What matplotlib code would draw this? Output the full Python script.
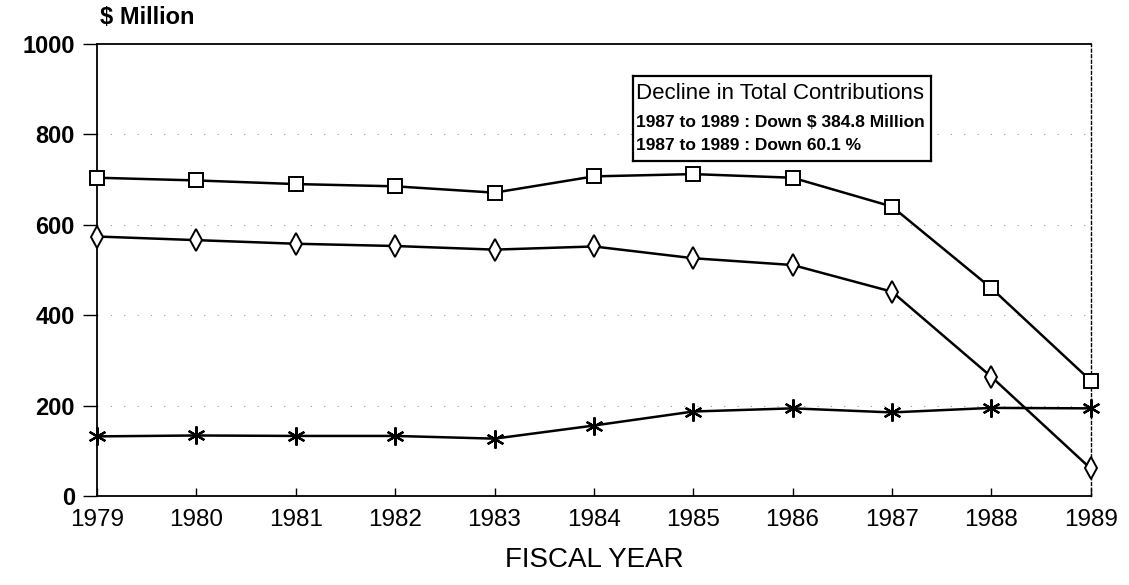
# coding=utf-8
"""
Total contributions by fiscal year, 1979-1989 ($ Million).
Redrawn from a scanned chart.
"""

import matplotlib
matplotlib.use('Agg')
import matplotlib.pyplot as plt

plt.rcParams['font.family'] = ['Liberation Sans', 'DejaVu Sans']

# Data
years = [1979, 1980, 1981, 1982, 1983, 1984, 1985, 1986, 1987, 1988, 1989]
total = [704, 698, 690, 685, 671, 707, 712, 704, 640.3, 460, 255.5]
diamond_series = [574, 566, 558, 553, 545, 552, 526, 511, 452, 264, 61]
star_series = [132, 134, 133, 133, 127, 156, 187, 194, 185, 195, 194]

y_ticks = [0, 200, 400, 600, 800, 1000]
box_title = "Decline in Total Contributions"
box_lines = ["1987 to 1989 : Down $ 384.8 Million",
             "1987 to 1989 : Down 60.1 %"]

fig = plt.figure(figsize=(11.29, 5.85), dpi=100)
ax = fig.add_axes([0.086, 0.152, 0.880, 0.773])

# faint dotted grid like the scan
for yv in y_ticks[1:-1]:
    ax.axhline(yv, color='0.6', lw=0.8, ls=(0, (1, 11)), zorder=1)

line_kw = dict(color='black', lw=1.8, clip_on=False, zorder=3)
ax.plot(years, total, marker='s', ms=10, mfc='white', mec='black', mew=1.4, **line_kw)
ax.plot(years, diamond_series, marker='d', ms=11, mfc='white', mec='black', mew=1.4, **line_kw)
ax.plot(years, star_series, marker=(6, 2, 0), ms=13, mec='black', mew=1.6, **line_kw)

ax.set_xlim(1979, 1989)
ax.set_ylim(0, 1000)
ax.set_xticks(years)
ax.set_yticks(y_ticks)
ax.tick_params(axis='x', direction='in', length=6, width=1, labelsize=17.5, pad=9)
ax.tick_params(axis='y', direction='out', length=10, width=1, labelsize=17, pad=6)
for lab in ax.get_yticklabels():
    lab.set_fontweight('bold')

for side in ['left', 'top', 'bottom']:
    ax.spines[side].set_linewidth(1.3)
ax.spines['right'].set_linestyle((0, (2, 2)))
ax.spines['right'].set_linewidth(1.0)

ax.set_xlabel("FISCAL YEAR", fontsize=20, labelpad=12)
fig.text(0.089, 0.950, "$ Million", fontsize=17, fontweight='bold', ha='left', va='bottom')

# annotation box
box = ax.inset_axes([0.539, 0.741, 0.300, 0.188])
box.set_xticks([])
box.set_yticks([])
for s in box.spines.values():
    s.set_linewidth(1.6)
box.text(0.012, 0.79, box_title, fontsize=16, ha='left', va='center', transform=box.transAxes)
box.text(0.012, 0.45, box_lines[0], fontsize=12.5, fontweight='bold', ha='left', va='center',
         transform=box.transAxes)
box.text(0.012, 0.18, box_lines[1], fontsize=12.5, fontweight='bold', ha='left', va='center',
         transform=box.transAxes)

fig.savefig('out.png', dpi=100)
